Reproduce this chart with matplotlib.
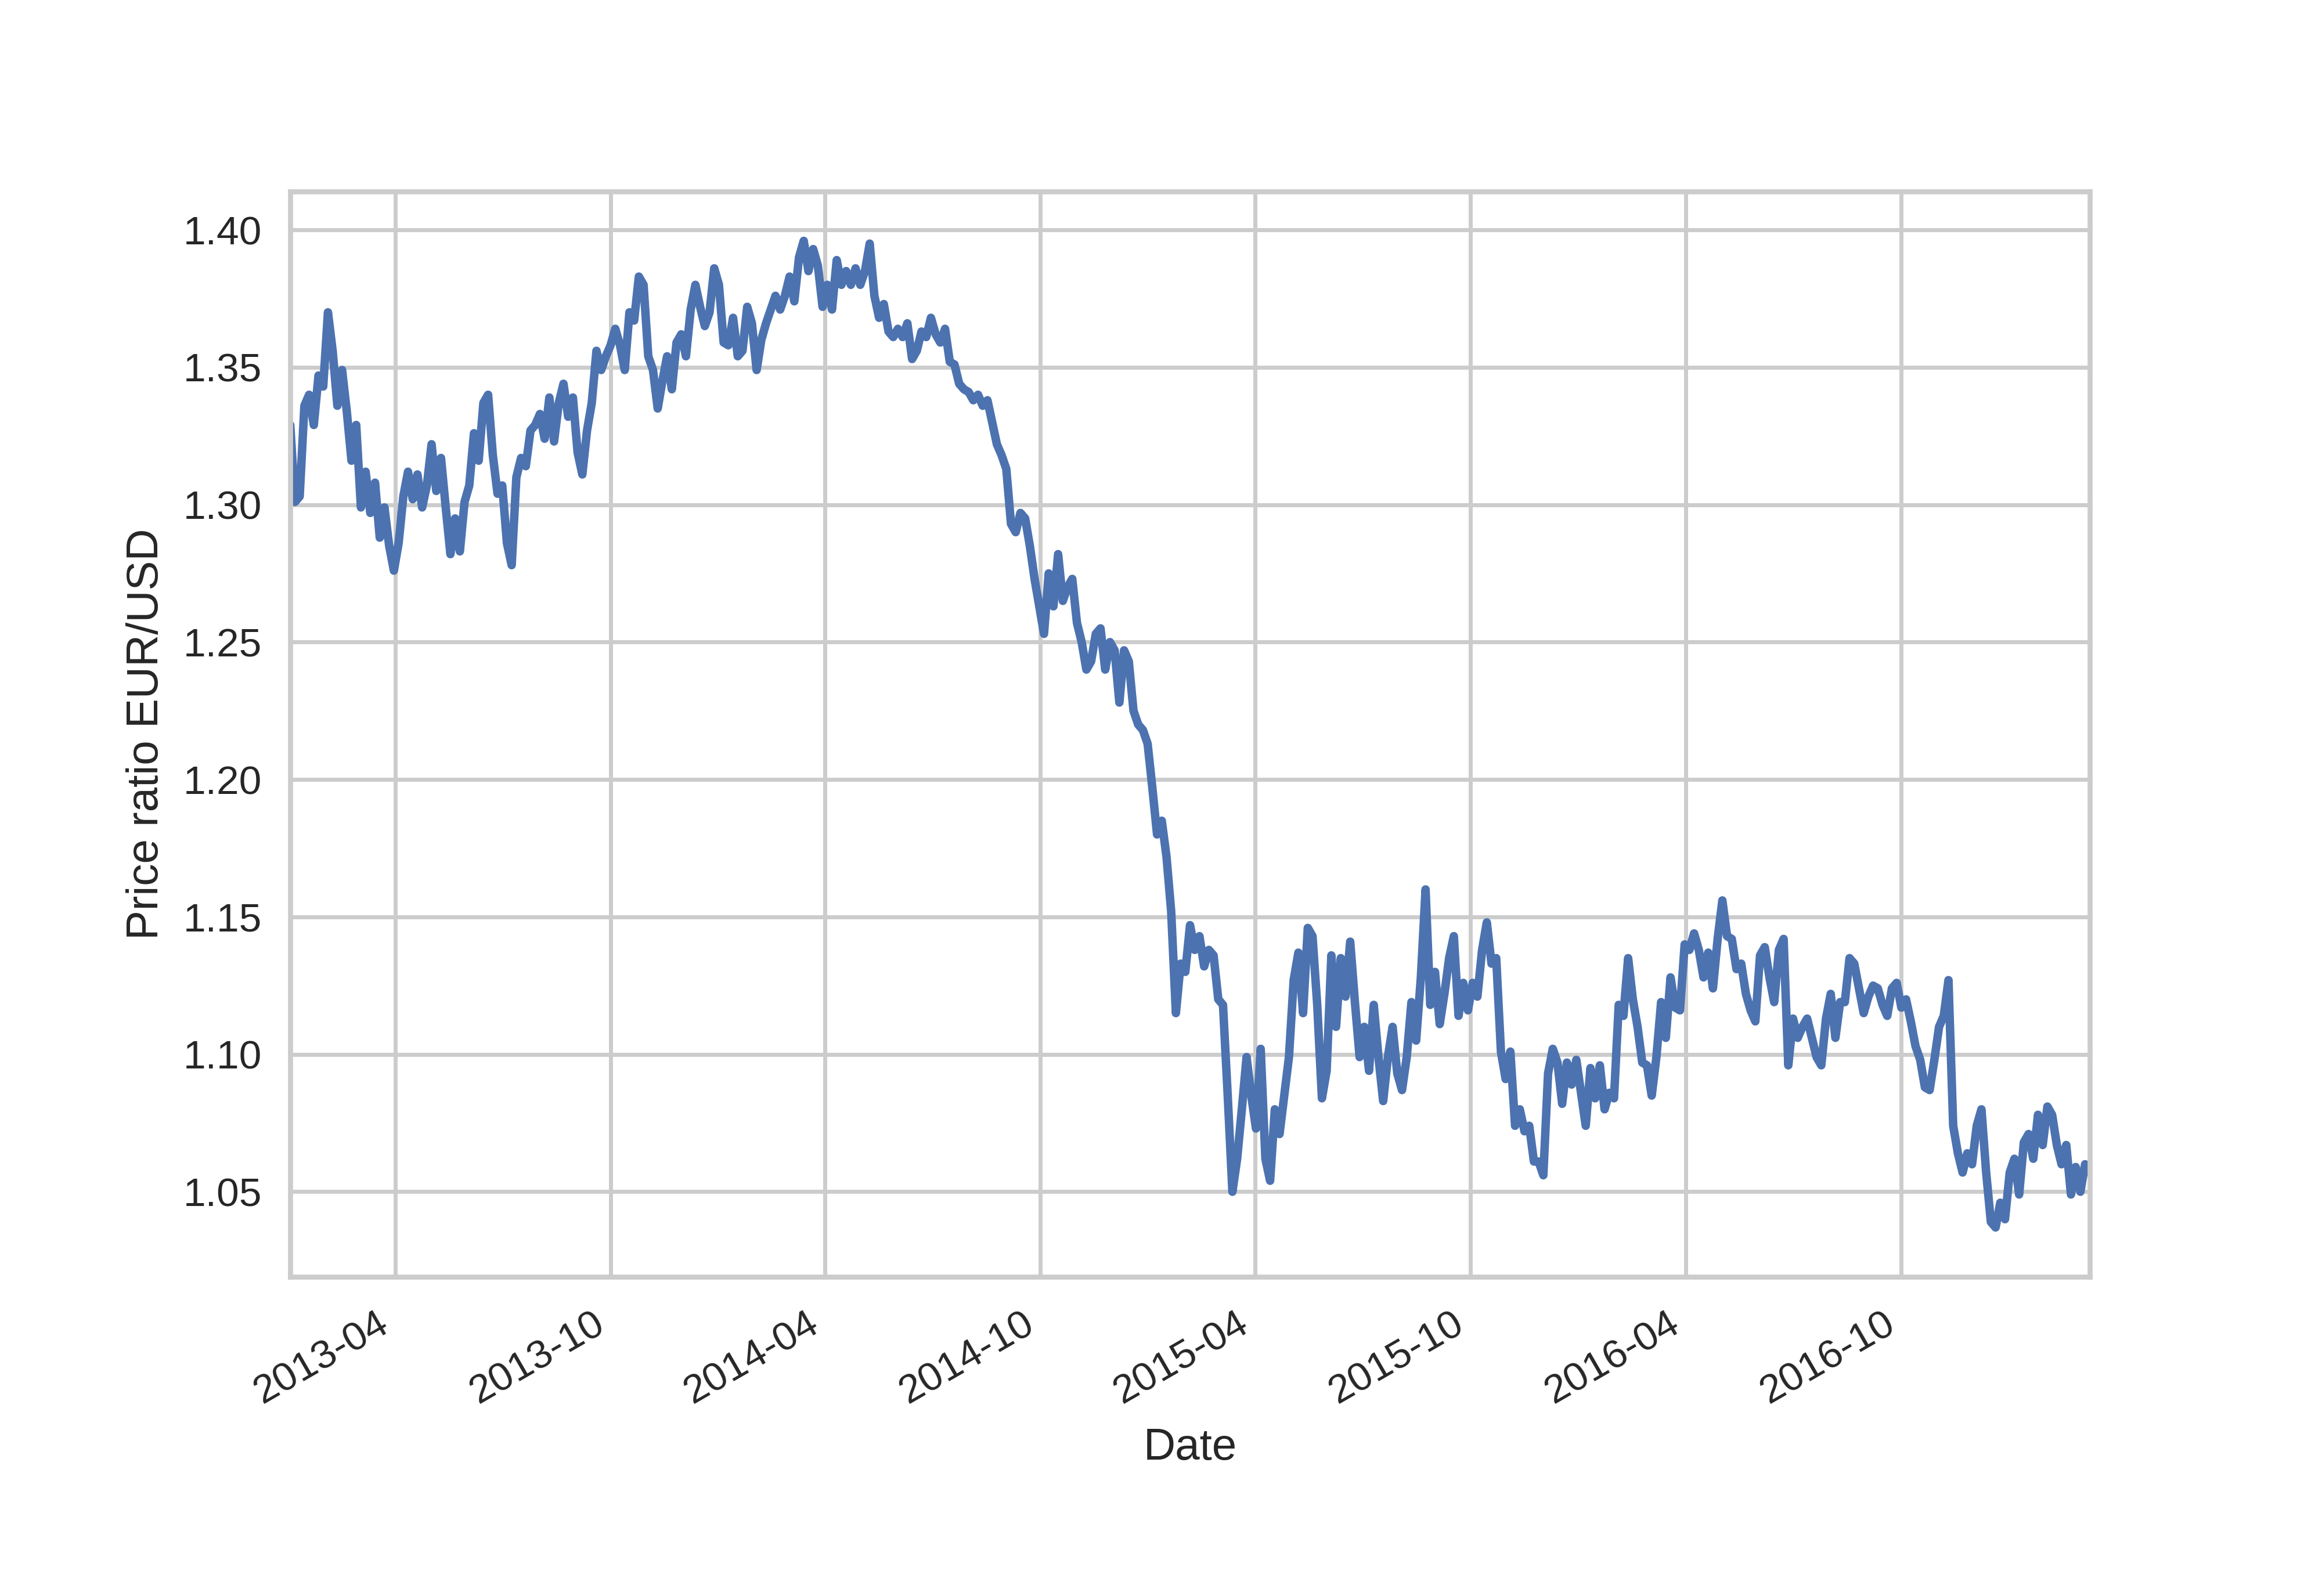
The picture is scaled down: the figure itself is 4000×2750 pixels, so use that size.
import matplotlib
matplotlib.use("Agg")
import matplotlib.pyplot as plt
import matplotlib.dates as mdates
import pandas as pd

start_date = "2013-01-02"
sample_step = "4D"
eur_usd = [
    1.329, 1.301, 1.303, 1.336, 1.340, 1.329, 1.347, 1.343, 1.370, 1.356,
    1.336, 1.349, 1.334, 1.316, 1.329, 1.299, 1.312, 1.297, 1.308, 1.288,
    1.299, 1.285, 1.276, 1.286, 1.303, 1.312, 1.302, 1.311, 1.299, 1.307,
    1.322, 1.305, 1.317, 1.299, 1.282, 1.295, 1.283, 1.301, 1.307, 1.326,
    1.316, 1.337, 1.340, 1.318, 1.304, 1.307, 1.286, 1.278, 1.310, 1.317,
    1.314, 1.327, 1.329, 1.333, 1.324, 1.339, 1.323, 1.337, 1.344, 1.332,
    1.339, 1.319, 1.311, 1.327, 1.337, 1.356, 1.349, 1.354, 1.358, 1.364,
    1.358, 1.349, 1.370, 1.367, 1.383, 1.380, 1.354, 1.349, 1.335, 1.345,
    1.354, 1.342, 1.359, 1.362, 1.354, 1.371, 1.380, 1.372, 1.365, 1.370,
    1.386, 1.380, 1.359, 1.358, 1.368, 1.354, 1.356, 1.372, 1.366, 1.349,
    1.360, 1.366, 1.371, 1.376, 1.371, 1.376, 1.383, 1.374, 1.390, 1.396,
    1.385, 1.393, 1.387, 1.372, 1.380, 1.371, 1.389, 1.380, 1.385, 1.380,
    1.386, 1.380, 1.385, 1.395, 1.376, 1.368, 1.373, 1.363, 1.361, 1.364,
    1.361, 1.366, 1.353, 1.356, 1.363, 1.361, 1.368, 1.362, 1.359, 1.364,
    1.352, 1.351, 1.344, 1.342, 1.341, 1.338, 1.340, 1.336, 1.338, 1.330,
    1.322, 1.318, 1.313, 1.293, 1.290, 1.297, 1.295, 1.285, 1.273, 1.263,
    1.253, 1.275, 1.263, 1.282, 1.265, 1.270, 1.273, 1.257, 1.250, 1.240,
    1.243, 1.253, 1.255, 1.240, 1.250, 1.247, 1.228, 1.247, 1.243, 1.225,
    1.220, 1.218, 1.213, 1.197, 1.180, 1.185, 1.172, 1.152, 1.115, 1.133,
    1.130, 1.147, 1.138, 1.143, 1.132, 1.138, 1.136, 1.120, 1.118, 1.085,
    1.050, 1.062, 1.080, 1.099, 1.085, 1.073, 1.102, 1.062, 1.054, 1.080,
    1.071, 1.085, 1.099, 1.127, 1.137, 1.115, 1.146, 1.143, 1.118, 1.084,
    1.094, 1.136, 1.110, 1.135, 1.121, 1.141, 1.119, 1.099, 1.110, 1.094,
    1.118, 1.099, 1.083, 1.099, 1.110, 1.093, 1.087, 1.099, 1.119, 1.105,
    1.128, 1.160, 1.118, 1.130, 1.111, 1.122, 1.135, 1.143, 1.114, 1.126,
    1.116, 1.126, 1.121, 1.138, 1.148, 1.133, 1.135, 1.101, 1.091, 1.101,
    1.074, 1.080, 1.072, 1.074, 1.061, 1.061, 1.056, 1.093, 1.102, 1.097,
    1.082, 1.097, 1.089, 1.098, 1.086, 1.074, 1.095, 1.084, 1.096, 1.080,
    1.086, 1.084, 1.118, 1.114, 1.135, 1.120, 1.110, 1.097, 1.096, 1.085,
    1.099, 1.119, 1.106, 1.128, 1.117, 1.116, 1.140, 1.138, 1.144, 1.138,
    1.128, 1.137, 1.124, 1.142, 1.156, 1.143, 1.142, 1.131, 1.133, 1.122,
    1.116, 1.112, 1.136, 1.139, 1.128, 1.119, 1.138, 1.142, 1.096, 1.113,
    1.106, 1.110, 1.113, 1.106, 1.099, 1.096, 1.113, 1.122, 1.106, 1.119,
    1.119, 1.135, 1.133, 1.124, 1.115, 1.121, 1.125, 1.124, 1.118, 1.114,
    1.124, 1.126, 1.117, 1.120, 1.112, 1.103, 1.098, 1.088, 1.087, 1.098,
    1.110, 1.114, 1.127, 1.074, 1.064, 1.057, 1.064, 1.060, 1.074, 1.080,
    1.057, 1.039, 1.037, 1.046, 1.040, 1.057, 1.062, 1.049, 1.068, 1.071,
    1.062, 1.078, 1.067, 1.081, 1.078, 1.067, 1.060, 1.067, 1.049, 1.059,
    1.050, 1.060, 1.057,
]
dates = pd.date_range(start_date, periods=len(eur_usd), freq=sample_step)

tick_months = [4, 10]
x_label = "Date"
y_label = "Price ratio EUR/USD"

plt.rcParams.update({
    "font.family": ["Liberation Sans", "DejaVu Sans"],
    "axes.facecolor": "white",
    "axes.edgecolor": ".8",
    "axes.linewidth": 1.25,
    "axes.grid": True,
    "grid.color": ".8",
    "grid.linewidth": 1,
    "grid.linestyle": "-",
    "text.color": ".15",
    "axes.labelcolor": ".15",
    "xtick.color": ".15",
    "ytick.color": ".15",
    "xtick.major.size": 0,
    "ytick.major.size": 0,
    "xtick.major.pad": 7,
    "ytick.major.pad": 7,
    "xtick.labelsize": 10,
    "ytick.labelsize": 10,
    "axes.labelsize": 11,
    "lines.linewidth": 2.1,
    "lines.solid_capstyle": "round",
})

fig, ax = plt.subplots(figsize=(8, 5.5), dpi=500)
ax.plot(dates, eur_usd, color="#4C72B0")
ax.set_xlim(dates[0], dates[-1])
ax.xaxis.set_major_locator(mdates.MonthLocator(bymonth=tick_months))
ax.xaxis.set_major_formatter(mdates.DateFormatter("%Y-%m"))
ax.set_xlabel(x_label)
ax.set_ylabel(y_label)
ax.set_axisbelow(True)
fig.autofmt_xdate()
fig.savefig("out.png", dpi=500)
